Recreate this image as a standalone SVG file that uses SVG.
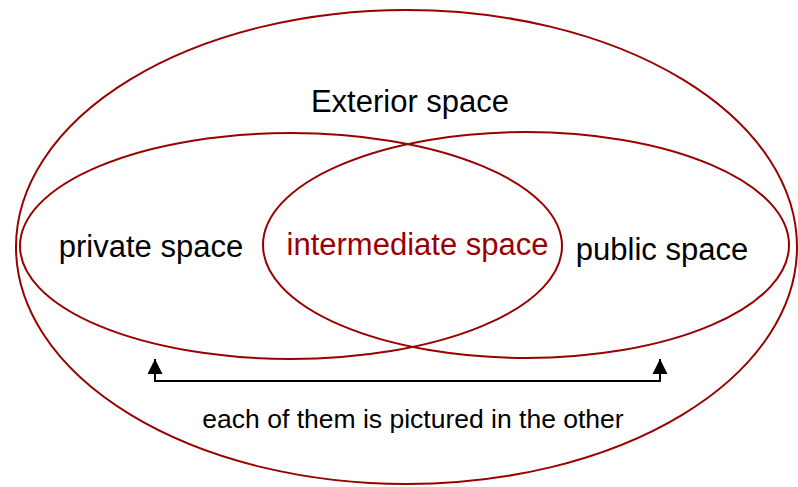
<svg xmlns="http://www.w3.org/2000/svg" width="798" height="487" viewBox="0 0 798 487">
<style>
.sp{fill:none;stroke:#990000;stroke-width:2}
.t{font-family:"Liberation Sans",Arial,sans-serif;font-size:31px;fill:#000;text-anchor:middle}
.red{fill:#990000}
.c{fill:none;stroke:#000;stroke-width:2}
</style>
<defs>
<marker id="ah" viewBox="0 0 15 16" refX="15" refY="8" markerWidth="15" markerHeight="16" markerUnits="userSpaceOnUse" orient="auto-start-reverse">
<path d="M0 0.5 L15 8 L0 15.5 Z" fill="#000"/>
</marker>
</defs>
<rect width="798" height="487" fill="#fff"/>
<g id="exterior">
<ellipse class="sp" cx="406.5" cy="247" rx="390.5" ry="237"/>
<text class="t" x="410" y="112">Exterior space</text>
</g>
<g id="private">
<ellipse class="sp" cx="291" cy="246" rx="271" ry="113"/>
<text class="t" x="151" y="257">private space</text>
</g>
<g id="public">
<ellipse class="sp" cx="526" cy="245" rx="263" ry="113"/>
<text class="t" x="662" y="260">public space</text>
</g>
<g id="intermediate">
<text class="t red" x="417.5" y="255">intermediate space</text>
</g>
<g id="connectors">
<path class="c" d="M155 359 L155 381 L660 381 L660 359" marker-start="url(#ah)" marker-end="url(#ah)"/>
</g>
<g id="caption">
<text class="t" style="font-size:26.5px" x="413" y="428">each of them is pictured in the other</text>
</g>
</svg>
